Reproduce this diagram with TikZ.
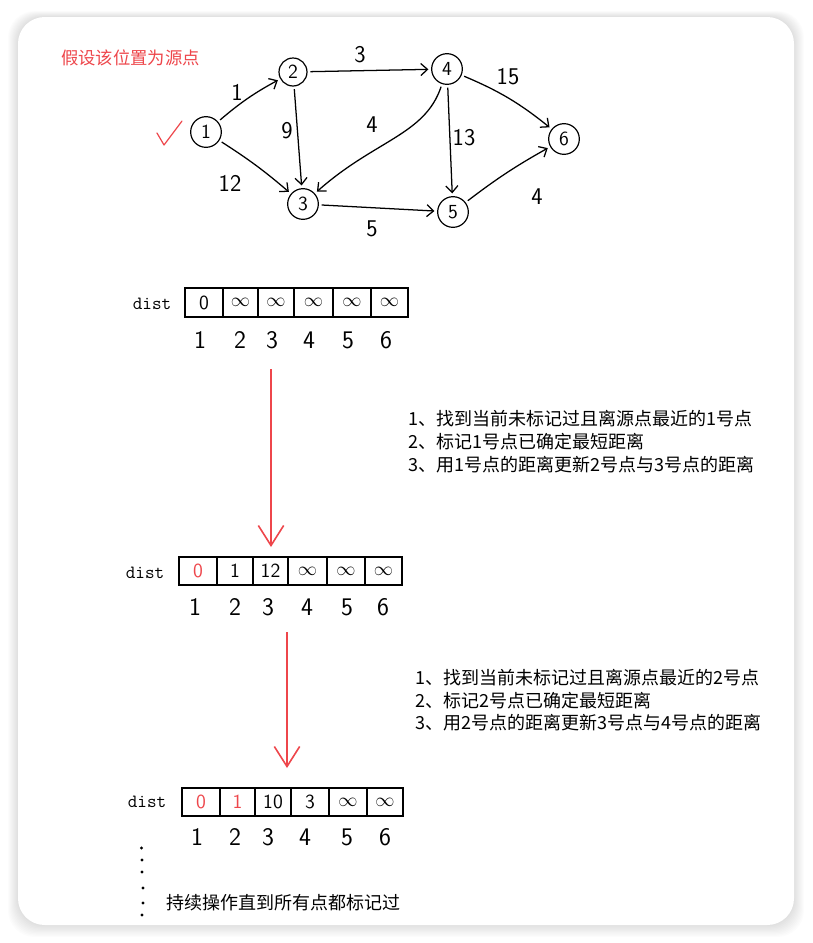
\documentclass[tikz,border=0pt]{standalone}
\usepackage{fontspec}
\newfontfamily\cjk{Noto Sans CJK SC}
\usetikzlibrary{arrows.meta}
\definecolor{myred}{RGB}{238,70,75}
\begin{document}
\begin{tikzpicture}[x=0.75pt,y=-0.75pt,
  vert/.style={circle, draw, line width=0.9pt, minimum size=23pt, inner sep=0pt, font=\sffamily\fontsize{15}{15}\selectfont},
  edge/.style={-{Straight Barb[length=5pt,width=9pt]}, line width=0.95pt, shorten >=2pt, shorten <=2pt},
  wlabel/.style={font=\sffamily\fontsize{18}{18}\selectfont, inner sep=0pt},
  cell/.style={draw, line width=0.8pt, rectangle, inner sep=0pt, font=\sffamily\fontsize{15}{15}\selectfont},
  idx/.style={font=\sffamily\fontsize{19}{19}\selectfont, inner sep=0pt},
  distlbl/.style={font=\ttfamily\fontsize{14}{14}\selectfont, inner sep=0pt},
  cnote/.style={font=\cjk\fontsize{13.5}{17.5}\selectfont, anchor=west, inner sep=0pt},
  redarrow/.style={-{Straight Barb[length=15pt,width=19pt]}, draw=myred, line width=1.2pt},
  dotmark/.style={circle, fill=black, inner sep=0pt, minimum size=2.4pt}
]
\useasboundingbox (0,0) rectangle (813,943);
\fill[white] (0,0) rectangle (813,943);
% shadow
\foreach \s in {1,...,10}{
  \fill[black, opacity=0.012, rounded corners=20] (18-\s,17-\s*0.6) rectangle (794+\s,925+\s*1.2);
}
\fill[white, rounded corners=20] (18,17) rectangle (794,925);

% title
\node[font=\cjk\fontsize{13}{13}\selectfont, text=myred, anchor=west, inner sep=0pt] (title) at (61,58) {假设该位置为源点};
% check mark
\coordinate (ck1) at (157,133);
\coordinate (ck2) at (164,145);
\coordinate (ck3) at (182,121);
\draw[myred, line width=0.9pt, line cap=round, line join=round] (ck1) -- (ck2) -- (ck3);

% graph
\node[vert] (n1) at (206,132) {1};
\node[vert, minimum size=21pt] (n2) at (293,72) {2};
\node[vert] (n3) at (303,204) {3};
\node[vert] (n4) at (447,69) {4};
\node[vert] (n5) at (453,212) {5};
\node[vert] (n6) at (564,139) {6};

\draw[edge] (n1) to[bend left=6] (n2);
\draw[edge] (n1) to[bend left=4] (n3);
\draw[edge] (n2) -- (n4);
\draw[edge] (n2) -- (n3);
\draw[edge] (n4) .. controls (425,135) and (375,140) .. (n3);
\draw[edge] (n4) -- (n5);
\draw[edge] (n4) to[bend left=8] (n6);
\draw[edge] (n3) -- (n5);
\draw[edge] (n5) to[bend left=4] (n6);

\node[wlabel] (w12) at (237,92) {1};
\node[wlabel] (w13) at (230,183) {12};
\node[wlabel] (w23) at (287,131) {9};
\node[wlabel] (w24) at (360,55) {3};
\node[wlabel] (w43) at (372,125) {4};
\node[wlabel] (w45) at (464,138) {13};
\node[wlabel] (w46) at (508,77) {15};
\node[wlabel] (w35) at (372,229) {5};
\node[wlabel] (w56) at (537,197) {4};

% array 1
\node[distlbl] (d1) at (152,304) {dist};
\node[cell, minimum width=28.5pt, minimum height=21.75pt] (a1) at (204,302.5) {0};
\node[cell, minimum width=26.25pt, minimum height=21.75pt] (a2) at (240.5,302.5) {$\infty$};
\node[cell, minimum width=27pt, minimum height=21.75pt] (a3) at (276,302.5) {$\infty$};
\node[cell, minimum width=29.25pt, minimum height=21.75pt] (a4) at (313.5,302.5) {$\infty$};
\node[cell, minimum width=28.5pt, minimum height=21.75pt] (a5) at (352,302.5) {$\infty$};
\node[cell, minimum width=27.75pt, minimum height=21.75pt] (a6) at (389.5,302.5) {$\infty$};
\node[idx] (i1) at (200,340) {1};
\node[idx] (i2) at (240,340) {2};
\node[idx] (i3) at (272,340) {3};
\node[idx] (i4) at (309,340) {4};
\node[idx] (i5) at (348,340) {5};
\node[idx] (i6) at (386,340) {6};

% red arrow 1
\coordinate (r1s) at (271,369);
\coordinate (r1e) at (271,547);
\draw[redarrow] (r1s) -- (r1e);

% notes 1
\node[cnote] (t11) at (408,419) {1、找到当前未标记过且离源点最近的1号点};
\node[cnote] (t12) at (408,442) {2、标记1号点已确定最短距离};
\node[cnote] (t13) at (408,465) {3、用1号点的距离更新2号点与3号点的距离};

% array 2
\node[distlbl] (d2) at (145,573) {dist};
\node[cell, minimum width=28.5pt, minimum height=21pt, text=myred] (b1) at (198,571) {0};
\node[cell, minimum width=27pt, minimum height=21pt] (b2) at (235,571) {1};
\node[cell, minimum width=26.25pt, minimum height=21pt] (b3) at (270.5,571) {12};
\node[cell, minimum width=29.25pt, minimum height=21pt] (b4) at (307.5,571) {$\infty$};
\node[cell, minimum width=28.5pt, minimum height=21pt] (b5) at (346,571) {$\infty$};
\node[cell, minimum width=27.75pt, minimum height=21pt] (b6) at (383.5,571) {$\infty$};
\node[idx] (j1) at (195,607) {1};
\node[idx] (j2) at (235,607) {2};
\node[idx] (j3) at (268,607) {3};
\node[idx] (j4) at (307,607) {4};
\node[idx] (j5) at (347,607) {5};
\node[idx] (j6) at (383,607) {6};

% red arrow 2
\coordinate (r2s) at (287,632);
\coordinate (r2e) at (287,768);
\draw[redarrow] (r2s) -- (r2e);

% notes 2
\node[cnote] (t21) at (415,678) {1、找到当前未标记过且离源点最近的2号点};
\node[cnote] (t22) at (415,701) {2、标记2号点已确定最短距离};
\node[cnote] (t23) at (415,723) {3、用2号点的距离更新3号点与4号点的距离};

% array 3
\node[distlbl] (d3) at (147,802) {dist};
\node[cell, minimum width=28.5pt, minimum height=21pt, text=myred] (c1) at (201,802) {0};
\node[cell, minimum width=26.25pt, minimum height=21pt, text=myred] (c2) at (237.5,802) {1};
\node[cell, minimum width=27pt, minimum height=21pt] (c3) at (273,802) {10};
\node[cell, minimum width=28.5pt, minimum height=21pt] (c4) at (310,802) {3};
\node[cell, minimum width=28.5pt, minimum height=21pt] (c5) at (348,802) {$\infty$};
\node[cell, minimum width=27pt, minimum height=21pt] (c6) at (385,802) {$\infty$};
\node[idx] (k1) at (197,837) {1};
\node[idx] (k2) at (235,837) {2};
\node[idx] (k3) at (268,837) {3};
\node[idx] (k4) at (305,837) {4};
\node[idx] (k5) at (347,837) {5};
\node[idx] (k6) at (385,837) {6};

% dots
\node[dotmark] (p1) at (141.5,848) {};
\node[dotmark] (p2) at (142,860) {};
\node[dotmark] (p3) at (142,872) {};
\node[dotmark] (p4) at (143,888) {};
\node[dotmark] (p5) at (143,903) {};
\node[dotmark] (p6) at (142,915) {};

\node[font=\cjk\fontsize{13.5}{13.5}\selectfont, anchor=west, inner sep=0pt] (final) at (166,903) {持续操作直到所有点都标记过};
\end{tikzpicture}
\end{document}
